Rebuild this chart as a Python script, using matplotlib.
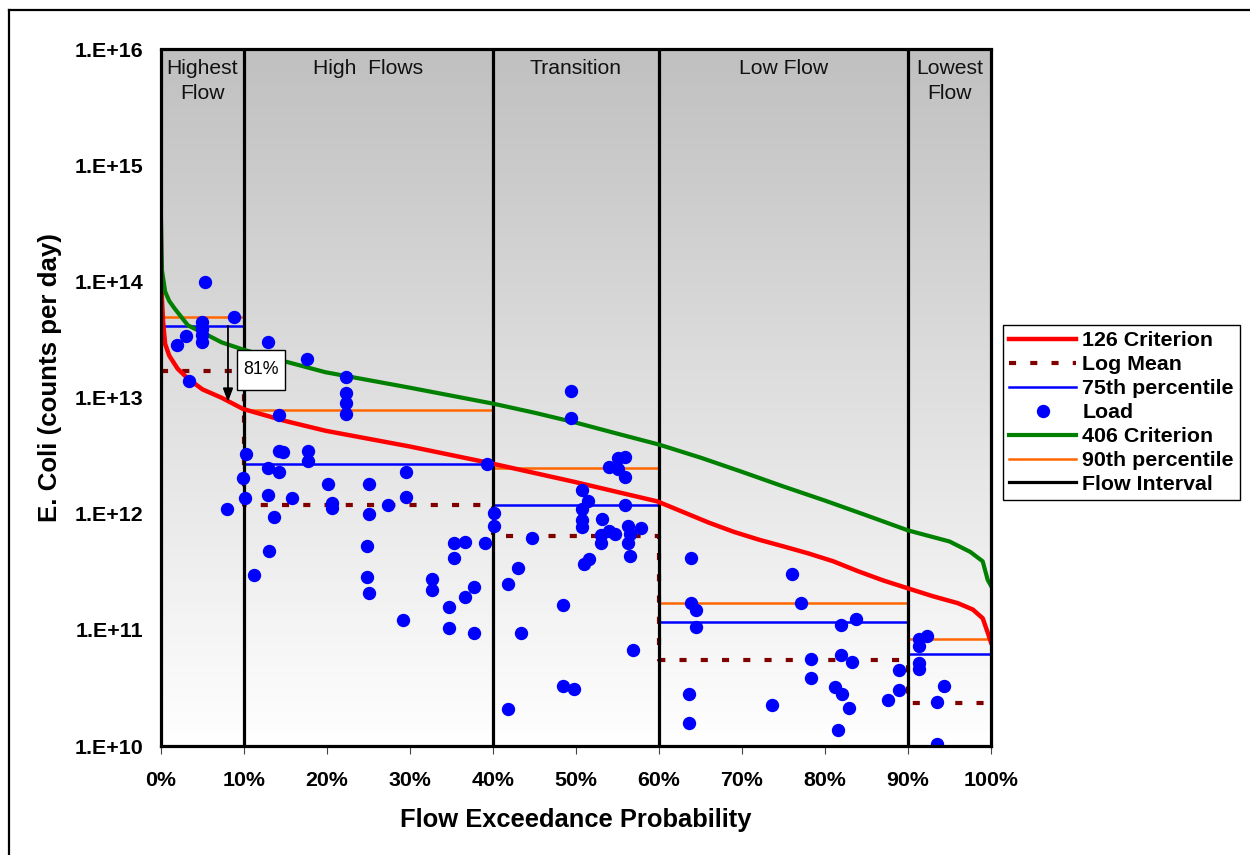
import numpy as np
import matplotlib
matplotlib.use("Agg")
import matplotlib.pyplot as plt
from matplotlib.colors import LinearSegmentedColormap
from matplotlib.lines import Line2D
from matplotlib.patches import Rectangle

plt.rcParams['font.family'] = ['Liberation Sans', 'DejaVu Sans']

# ---------------- data ----------------
# flow duration curves (flow exceedance %, load counts/day)
crit126_pct = [0.0, 0.25, 0.5, 1.0, 2.0, 3.25, 5.0, 7.3, 9.9, 15.0, 19.8, 30.0, 39.5,
               49.6, 59.8, 63.0, 66.0, 69.0, 72.0, 75.0, 78.0, 81.0, 84.0, 87.0, 90.0,
               93.0, 96.0, 97.8, 99.0, 99.6, 100.0]
crit126_load = [1.05e14, 4.5e13, 2.9e13, 2.3e13, 1.78e13, 1.46e13, 1.18e13, 1.0e13, 8.0e12,
                6.3e12, 5.2e12, 3.8e12, 2.75e12, 1.9e12, 1.28e12, 1.03e12, 8.4e11, 7.0e11,
                6.0e11, 5.24e11, 4.56e11, 3.9e11, 3.2e11, 2.67e11, 2.28e11, 1.95e11,
                1.7e11, 1.5e11, 1.26e11, 9.5e10, 7.8e10]

crit406_pct = [0.0, 0.12, 0.5, 1.0, 1.7, 3.25, 5.0, 7.3, 9.9, 15.0, 19.8, 30.0, 40.0,
               45.0, 50.0, 55.0, 60.0, 65.0, 70.0, 75.0, 80.0, 85.0, 90.0, 95.0, 97.5,
               99.0, 99.6, 100.0]
crit406_load = [3.4e14, 1.25e14, 8.2e13, 6.8e13, 5.8e13, 4.2e13, 3.65e13, 3.0e13, 2.6e13,
                2.05e13, 1.66e13, 1.22e13, 8.9e12, 7.43e12, 6.1e12, 4.9e12, 3.95e12,
                3.05e12, 2.3e12, 1.72e12, 1.3e12, 9.7e11, 7.2e11, 5.78e11, 4.7e11, 3.9e11,
                2.7e11, 2.4e11]

# flow intervals
interval_bounds = [0, 10, 40, 60, 90, 100]
interval_names = ["Highest\nFlow", "High  Flows", "Transition", "Low Flow", "Lowest\nFlow"]
log_mean = [1.71e13, 1.18e12, 6.5e11, 5.5e10, 2.35e10]
pct75 = [4.16e13, 2.7e12, 1.2e12, 1.16e11, 6.2e10]
pct90 = [4.97e13, 7.9e12, 2.5e12, 1.7e11, 8.3e10]

# observed loads
load_pct = [5.3, 8.83, 4.98, 4.98, 4.98, 4.98, 3.0, 1.9, 3.4, 7.9,
            12.85, 17.6, 14.2, 10.2, 14.2, 14.7, 17.7, 17.7, 12.85, 14.2, 9.9, 10.1,
            12.85, 15.8, 13.65, 13.05, 11.2, 20.1, 22.25, 22.25, 22.25, 22.25, 39.24,
            29.5, 25.06, 29.5, 20.57, 20.57, 27.35, 25.06, 40.12, 40.12, 24.78, 35.3,
            36.66, 39.0, 35.3, 24.78, 25.06, 32.65, 32.65, 37.7, 36.66, 34.73, 29.19,
            34.73, 37.7,
            49.43, 49.43, 55.1, 55.9, 54.0, 55.1, 55.9, 50.69, 51.48, 55.9, 50.69,
            50.69, 53.1, 50.69, 56.23, 57.83, 54.0, 54.7, 53.0, 56.5, 53.0, 56.23,
            44.66, 51.57, 50.96, 56.5, 42.98, 41.77, 48.47, 43.37, 56.83, 48.47, 49.8,
            41.77,
            63.9, 76.0, 63.9, 64.46, 77.07, 64.46, 78.3, 78.3, 63.65, 73.58, 63.65,
            81.2, 83.73, 81.93, 81.93, 83.2, 88.88, 82.0, 88.88, 87.55, 82.89, 81.53,
            92.33, 91.33, 91.33, 91.33, 91.33, 94.34, 93.46, 93.46]
load_val = [1.0e14, 5.0e13, 4.5e13, 3.9e13, 3.5e13, 3.0e13, 3.4e13, 2.84e13, 1.4e13, 1.1e12,
            3.0e13, 2.16e13, 7.05e12, 3.26e12, 3.48e12, 3.39e12, 3.48e12, 2.86e12, 2.5e12,
            2.28e12, 2.05e12, 1.38e12, 1.46e12, 1.38e12, 9.4e11, 4.75e11, 2.95e11, 1.8e12,
            1.51e13, 1.1e13, 9.05e12, 7.3e12, 2.67e12, 2.31e12, 1.8e12, 1.41e12, 1.23e12,
            1.12e12, 1.2e12, 9.9e11, 1.01e12, 7.9e11, 5.24e11, 5.56e11, 5.75e11, 5.6e11,
            4.2e11, 2.84e11, 2.08e11, 2.76e11, 2.2e11, 2.36e11, 1.94e11, 1.57e11, 1.22e11,
            1.04e11, 9.4e10,
            1.14e13, 6.64e12, 3.05e12, 3.1e12, 2.55e12, 2.44e12, 2.08e12, 1.6e12, 1.29e12,
            1.2e12, 1.1e12, 8.9e11, 8.95e11, 7.67e11, 7.8e11, 7.6e11, 7.15e11, 6.68e11,
            6.6e11, 6.68e11, 5.59e11, 5.65e11, 6.17e11, 4.1e11, 3.69e11, 4.3e11, 3.41e11,
            2.5e11, 1.65e11, 9.4e10, 6.65e10, 3.28e10, 3.07e10, 2.09e10,
            4.2e11, 3.03e11, 1.71e11, 1.47e11, 1.71e11, 1.05e11, 5.62e10, 3.86e10, 2.78e10,
            2.25e10, 1.57e10, 3.22e10, 1.24e11, 1.11e11, 6.14e10, 5.27e10, 4.5e10, 2.78e10,
            3.03e10, 2.48e10, 2.13e10, 1.38e10,
            8.94e10, 8.36e10, 7.23e10, 5.14e10, 4.65e10, 3.28e10, 2.4e10, 1.05e10]

# reduction annotation
reduction_label = "81%"
arrow_pct = 8.07
arrow_from = 4.16e13
arrow_to = 9.2e12

y_ticks = [1e10, 1e11, 1e12, 1e13, 1e14, 1e15, 1e16]
y_ticklabels = ["1.E+10", "1.E+11", "1.E+12", "1.E+13", "1.E+14", "1.E+15", "1.E+16"]
x_ticks = list(range(0, 101, 10))
x_ticklabels = [f"{t}%" for t in x_ticks]

# ---------------- figure ----------------
W, H = 1250, 855
fig = plt.figure(figsize=(W / 100, H / 100), dpi=100)
ax = fig.add_axes([161 / W, 1 - 746 / H, 830 / W, (746 - 49.5) / H])
ax.set_yscale('log')
ax.set_xlim(0, 100)
ax.set_ylim(1e10, 1e16)

# gradient background
cmap = LinearSegmentedColormap.from_list('g', ['#ffffff', '#c0c0c0'])
grad = np.linspace(0, 1, 256).reshape(-1, 1)
ax.imshow(grad, extent=[0, 1, 0, 1], transform=ax.transAxes, cmap=cmap,
          aspect='auto', origin='lower', zorder=0)


def step_xy(vals):
    xs, ys = [], []
    for i, v in enumerate(vals):
        xs += [interval_bounds[i], interval_bounds[i + 1]]
        ys += [v, v]
    return xs, ys


xs, ys = step_xy(log_mean)
ax.plot(xs, ys, color='#800000', lw=3, dashes=(1.7, 3.4), zorder=2)
xs, ys = step_xy(pct75)
ax.plot(xs, ys, color='#0000ff', lw=1.8, zorder=2)
xs, ys = step_xy(pct90)
ax.plot(xs, ys, color='#ff6600', lw=1.8, zorder=2)

ax.vlines(interval_bounds[1:-1], 1e10, 1e16, color='black', lw=2.3, zorder=3)

ax.plot(crit126_pct, crit126_load, color='#ff0000', lw=3.2, zorder=4,
        solid_joinstyle='round')
ax.plot(crit406_pct, crit406_load, color='#008000', lw=3.0, zorder=4,
        solid_joinstyle='round')

ax.plot(load_pct, load_val, 'o', color='#0000ff', ms=8.6, mec='#0000ff', zorder=5,
        linestyle='none')

# region labels
for i, name in enumerate(interval_names):
    xc = (interval_bounds[i] + interval_bounds[i + 1]) / 2
    lines = name.split("\n")
    for j, ln in enumerate(lines):
        ax.text(xc, 1 - (74 - 49.5 + 25 * j) / 696.5, ln,
                transform=ax.get_xaxis_transform(), ha='center', va='baseline',
                fontsize=15.2, color='#111111', zorder=6)

# arrow + box
ax.annotate('', xy=(arrow_pct, arrow_to), xytext=(arrow_pct, arrow_from),
            arrowprops=dict(arrowstyle='-|>,head_length=0.8,head_width=0.3',
                            color='black', lw=1.3, shrinkA=0, shrinkB=0), zorder=6)
box_x0, box_x1 = 9.16, 14.94
box_y0, box_y1 = 1.17e13, 2.59e13
ax.add_patch(Rectangle((box_x0, box_y0), box_x1 - box_x0, box_y1 - box_y0,
                       fc='white', ec='black', lw=1.0, zorder=7))
ax.text((box_x0 + box_x1) / 2, np.sqrt(box_y0 * box_y1), reduction_label,
        ha='center', va='center', fontsize=12.8, zorder=8)

# axes styling
for s in ax.spines.values():
    s.set_linewidth(2.3)
    s.set_color('black')
    s.set_zorder(6)
ax.set_xticks(x_ticks)
ax.set_xticklabels(x_ticklabels, fontsize=15.4, fontweight='bold')
ax.set_yticks(y_ticks)
ax.set_yticklabels(y_ticklabels, fontsize=15.4, fontweight='bold')
ax.yaxis.set_minor_locator(matplotlib.ticker.NullLocator())
ax.tick_params(axis='x', direction='out', length=6, width=0.8, color='#444444', pad=12)
ax.tick_params(axis='y', length=0, pad=13)

fig.text(576 / W, 1 - 820 / H, "Flow Exceedance Probability", ha='center', va='center',
         fontsize=18.4, fontweight='bold')
fig.text(49.7 / W, 1 - 378 / H, "E. Coli (counts per day)", ha='center', va='center',
         rotation=90, fontsize=18.6, fontweight='bold')

# legend
handles = [
    Line2D([], [], color='#ff0000', lw=3.2),
    Line2D([], [], color='#800000', lw=3, dashes=(1.7, 3.4)),
    Line2D([], [], color='#0000ff', lw=1.8),
    Line2D([], [], color='#0000ff', marker='o', ms=8.6, linestyle='none'),
    Line2D([], [], color='#008000', lw=3.0),
    Line2D([], [], color='#ff6600', lw=1.8),
    Line2D([], [], color='black', lw=2.3),
]
labels = ["126 Criterion", "Log Mean", "75th percentile", "Load", "406 Criterion",
          "90th percentile", "Flow Interval"]
leg = fig.legend(handles, labels, loc='upper left',
                 bbox_to_anchor=(1003 / W, 1 - 325 / H), bbox_transform=fig.transFigure,
                 prop={'size': 15.4, 'weight': 'bold'}, frameon=True, fancybox=False,
                 edgecolor='black', framealpha=1, borderpad=0.3, labelspacing=0.23,
                 handlelength=3.1, handletextpad=0.3, borderaxespad=0)
leg.get_frame().set_linewidth(1.0)

# figure border
fig.add_artist(Line2D([8.5 / W, 8.5 / W], [-0.01, 1 - 10 / H], transform=fig.transFigure,
                      color='black', lw=1.6))
fig.add_artist(Line2D([8.5 / W, 1.01], [1 - 10 / H, 1 - 10 / H], transform=fig.transFigure,
                      color='black', lw=1.6))

fig.savefig("out.png", dpi=100)
